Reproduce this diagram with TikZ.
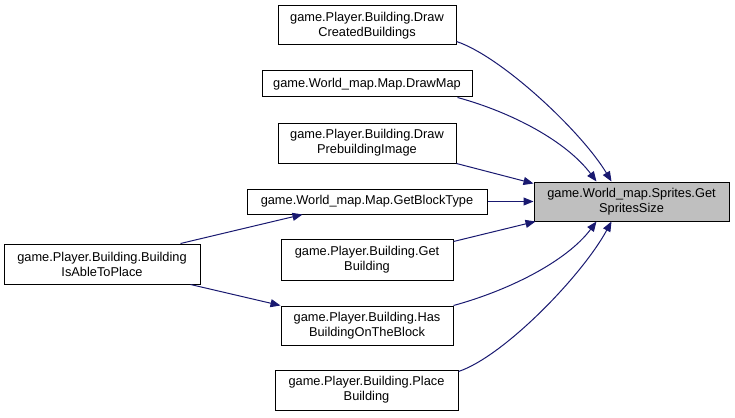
\documentclass[tikz,border=0pt]{standalone}
\usepackage{fontspec}
\setmainfont{Liberation Sans}
\usetikzlibrary{arrows.meta,calc}
\definecolor{edgeblue}{HTML}{191970}
\definecolor{targetgray}{HTML}{BFBFBF}
\begin{document}
\begin{tikzpicture}[x=1pt,y=-1pt,
  fn/.style={draw=black,line width=1pt,fill=white,inner sep=0pt,align=center,
    font=\fontsize{12.8}{15}\selectfont},
  callarrow/.style={draw=edgeblue,line width=1pt,-{Triangle[length=10pt,width=8pt]}}]
\useasboundingbox (0,0) rectangle (735,417);
\node[fn,minimum width=195,minimum height=39,fill=targetgray] (t) at (631.5,201.5) {game.World\_map.Sprites.Get\\SpritesSize};
\node[fn,minimum width=178,minimum height=39] (b1) at (367,25.5) {game.Player.Building.Draw\\CreatedBuildings};
\node[fn,minimum width=210,minimum height=26] (b2) at (367,84) {game.World\_map.Map.DrawMap};
\node[fn,minimum width=178,minimum height=40] (b3) at (367,143) {game.Player.Building.Draw\\PrebuildingImage};
\node[fn,minimum width=240,minimum height=25] (b4) at (367,201.5) {game.World\_map.Map.GetBlockType};
\node[fn,minimum width=172,minimum height=41] (b5) at (367,259.5) {game.Player.Building.Get\\Building};
\node[fn,minimum width=172,minimum height=39] (b6) at (367,325.5) {game.Player.Building.Has\\BuildingOnTheBlock};
\node[fn,minimum width=183,minimum height=40] (b7) at (366.5,390) {game.Player.Building.Place\\Building};
\node[fn,minimum width=196,minimum height=40] (l) at (102,264) {game.Player.Building.Building\\IsAbleToPlace};
% edges
\draw[callarrow] ($(b1.south east)+(0,-4)$) .. controls +(45,15) and +(-30,-50) .. ($(t.north west)+(78,0)$);
\draw[callarrow] ($(b2.south east)+(-15,0)$) .. controls +(55,15) and +(-30,-40) .. ($(t.north west)+(63,0)$);
\draw[callarrow] (b3.south east) -- ($(t.north west)+(0,2)$);
\draw[callarrow] (b4.east) -- (t.west);
\draw[callarrow] ($(b5.north east)+(0,3)$) -- ($(t.south west)+(2,0)$);
\draw[callarrow] ($(b6.north east)+(0,0)$) .. controls +(55,-15) and +(-30,40) .. ($(t.south west)+(63,0)$);
\draw[callarrow] ($(b7.north east)+(0,2)$) .. controls +(45,-15) and +(-30,55) .. ($(t.south west)+(78,0)$);
\draw[callarrow] ($(l.north east)+(-20,0)$) -- ($(b4.south west)+(56,0)$);
\draw[callarrow] ($(l.south east)+(-10,0)$) -- (b6.north west);
\end{tikzpicture}
\end{document}
